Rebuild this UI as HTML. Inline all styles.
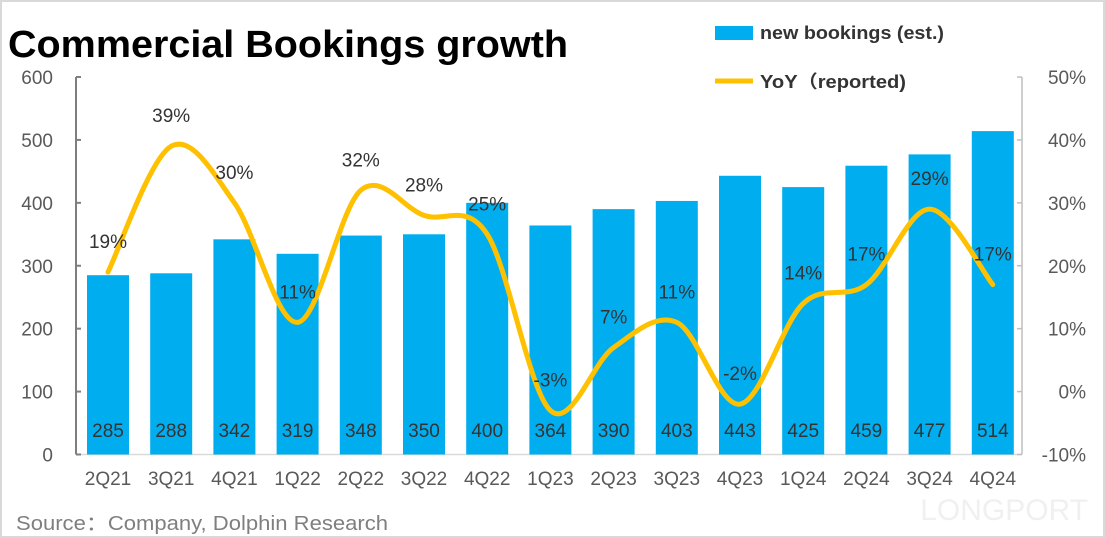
<!DOCTYPE html>
<html><head><meta charset="utf-8"><style>
body{margin:0;background:#fff;}
svg{display:block;font-family:"Liberation Sans","Noto Sans CJK SC",sans-serif;}
</style></head><body>
<svg width="1105" height="538" viewBox="0 0 1105 538">
<rect x="1" y="1" width="1103" height="536" fill="#fff" stroke="#d9d9d9" stroke-width="2"/>
<text x="8" y="57" font-size="38" font-weight="bold" fill="#000" textLength="560" lengthAdjust="spacingAndGlyphs">Commercial Bookings growth</text>
<text x="1088" y="520" font-size="30" fill="#f0f0f0" text-anchor="end">LONGPORT</text>
<g id="axes"></g>
<g id="bars"></g>
<path id="line" fill="none" stroke="#FFC000" stroke-width="5" stroke-linecap="round"/>
<g id="labels"></g>
<g>
<rect x="715" y="26" width="38" height="14" fill="#00AEEF"/>
<text x="760" y="39" font-size="18" font-weight="bold" fill="#333" textLength="184" lengthAdjust="spacingAndGlyphs">new bookings (est.)</text>
<line x1="715" y1="81" x2="753" y2="81" stroke="#FFC000" stroke-width="5"/>
<text x="760" y="88" font-size="18" font-weight="bold" fill="#333" textLength="146" lengthAdjust="spacingAndGlyphs">YoY（reported)</text>
</g>
<text x="16" y="530" font-size="20" fill="#7f7f7f" textLength="372" lengthAdjust="spacingAndGlyphs">Source：Company, Dolphin Research</text>
</svg>
<script>
const categories=["2Q21","3Q21","4Q21","1Q22","2Q22","3Q22","4Q22","1Q23","2Q23","3Q23","4Q23","1Q24","2Q24","3Q24","4Q24"];
const bookings=[285,288,342,319,348,350,400,364,390,403,443,425,459,477,514];
const yoy=[19,39,30,11,32,28,25,-3,7,11,-2,14,17,29,17];
const leftTicks=[0,100,200,300,400,500,600];
const rightTicks=[-10,0,10,20,30,40,50];
const NS="http://www.w3.org/2000/svg";
const x0=76,x1=1022,y0=454.5,yTop=77;
const step=63.2, first=108, bw=42;
const xPos=i=>first+step*i;
const yL=v=>y0-(v/600)*(y0-yTop);
const yR=v=>y0-((v+10)/60)*(y0-yTop);
function mk(tag,attrs,parent,text){const e=document.createElementNS(NS,tag);for(const k in attrs)e.setAttribute(k,attrs[k]);if(text!==undefined)e.textContent=text;parent.appendChild(e);return e;}
const axes=document.getElementById('axes');
let e=mk('line',{x1:x0,y1:yTop,x2:x0,y2:y0,stroke:'#7f7f7f','stroke-width':2},axes);


e=mk('line',{x1:x1,y1:yTop,x2:x1,y2:y0,stroke:'#bfbfbf','stroke-width':1.5},axes);


e=mk('line',{x1:x0,y1:y0,x2:x1,y2:y0,stroke:'#d9d9d9','stroke-width':1.5},axes);


leftTicks.forEach(v=>{
  const t=mk('line',{x1:x0,y1:yL(v),x2:x0+5,y2:yL(v),stroke:'#7f7f7f','stroke-width':2},axes);
  
  
  const l=mk('text',{x:53,y:yL(v)+7,'font-size':19,fill:'#595959','text-anchor':'end'},axes,String(v));
  
  
});
rightTicks.forEach(v=>{
  const t=mk('line',{x1:x1-5,y1:yR(v),x2:x1,y2:yR(v),stroke:'#bfbfbf','stroke-width':1.5},axes);
  
  
  const l=mk('text',{x:1086,y:yR(v)+7,'font-size':19,fill:'#595959','text-anchor':'end'},axes,v+'%');
  
  
});
const bars=document.getElementById('bars'),labels=document.getElementById('labels');
categories.forEach((c,i)=>{
  const b=mk('rect',{x:xPos(i)-bw/2,y:yL(bookings[i]),width:bw,height:y0-yL(bookings[i]),fill:'#00AEEF'},bars);
  
  
  const v=mk('text',{x:xPos(i),y:437,'font-size':19,fill:'#333','text-anchor':'middle'},labels,String(bookings[i]));
  
  
  const xl=mk('text',{x:xPos(i),y:485,'font-size':19,fill:'#595959','text-anchor':'middle'},labels,c);
  
  
  const yl=mk('text',{x:xPos(i),y:yR(yoy[i])-24,'font-size':19,fill:'#333','text-anchor':'middle'},labels,yoy[i]+'%');
  
  
});
const pts=yoy.map((v,i)=>[xPos(i),yR(v)]);
let d='M'+pts[0][0]+','+pts[0][1];
for(let i=0;i<pts.length-1;i++){
  const p0=pts[i-1]||pts[i],p1=pts[i],p2=pts[i+1],p3=pts[i+2]||p2;
  const t=1/6;
  d+=` C${p1[0]+(p2[0]-p0[0])*t},${p1[1]+(p2[1]-p0[1])*t} ${p2[0]-(p3[0]-p1[0])*t},${p2[1]-(p3[1]-p1[1])*t} ${p2[0]},${p2[1]}`;
}
document.getElementById('line').setAttribute('d',d);
</script>
</body></html>
